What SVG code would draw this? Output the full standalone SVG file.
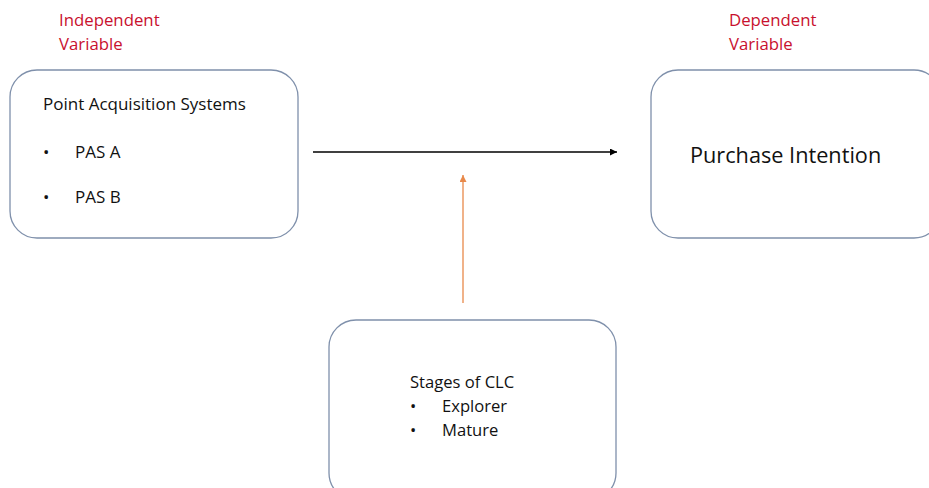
<svg xmlns="http://www.w3.org/2000/svg" width="929" height="488" viewBox="0 0 929 488">
<style>
.box{fill:#fff;stroke:#7f90ab;stroke-width:1.3}
.t{font-family:"Open Sans","Liberation Sans",sans-serif;fill:#111;font-size:17px}
.big{font-size:21.7px}
.mid{font-size:16.6px}
.red{font-family:"Open Sans","Liberation Sans",sans-serif;fill:#c8102e;font-size:16.8px}
</style>
<defs>
<marker id="ah" viewBox="0 0 10 10" refX="10" refY="5" markerWidth="7" markerHeight="7" orient="auto" markerUnits="userSpaceOnUse"><path d="M0,0 L10,5 L0,10 z" fill="#000"/></marker>
<marker id="ao" viewBox="0 0 10 10" refX="10" refY="5" markerWidth="7" markerHeight="7" orient="auto" markerUnits="userSpaceOnUse"><path d="M0,0 L10,5 L0,10 z" fill="#e8894a"/></marker>
</defs>
<rect width="929" height="488" fill="#fff"/>
<text class="red" x="59" y="26">Independent</text>
<text class="red" x="59" y="50">Variable</text>
<text class="red" x="729" y="26">Dependent</text>
<text class="red" x="729" y="50">Variable</text>
<g id="pas">
<rect class="box" x="10" y="70" width="288" height="168" rx="27"/>
<text class="t" x="43" y="110">Point Acquisition Systems</text>
<text class="t" x="43" y="158">•</text>
<text class="t" x="75" y="158">PAS A</text>
<text class="t" x="43" y="203">•</text>
<text class="t" x="75" y="203">PAS B</text>
</g>
<g id="pi">
<rect class="box" x="651" y="70" width="290" height="168" rx="27"/>
<text class="t big" x="690" y="163">Purchase Intention</text>
</g>
<g id="clc">
<rect class="box" x="329" y="320" width="287" height="180" rx="27"/>
<text class="t mid" x="410" y="388">Stages of CLC</text>
<text class="t mid" x="410" y="412">•</text>
<text class="t mid" x="442" y="412">Explorer</text>
<text class="t mid" x="410" y="436">•</text>
<text class="t mid" x="442" y="436">Mature</text>
</g>
<g id="connectors">
<line x1="313" y1="152" x2="617" y2="152" stroke="#000" stroke-width="1.3" marker-end="url(#ah)"/>
<line x1="463" y1="303" x2="463" y2="175" stroke="#e8894a" stroke-width="1.3" marker-end="url(#ao)"/>
</g>
</svg>
